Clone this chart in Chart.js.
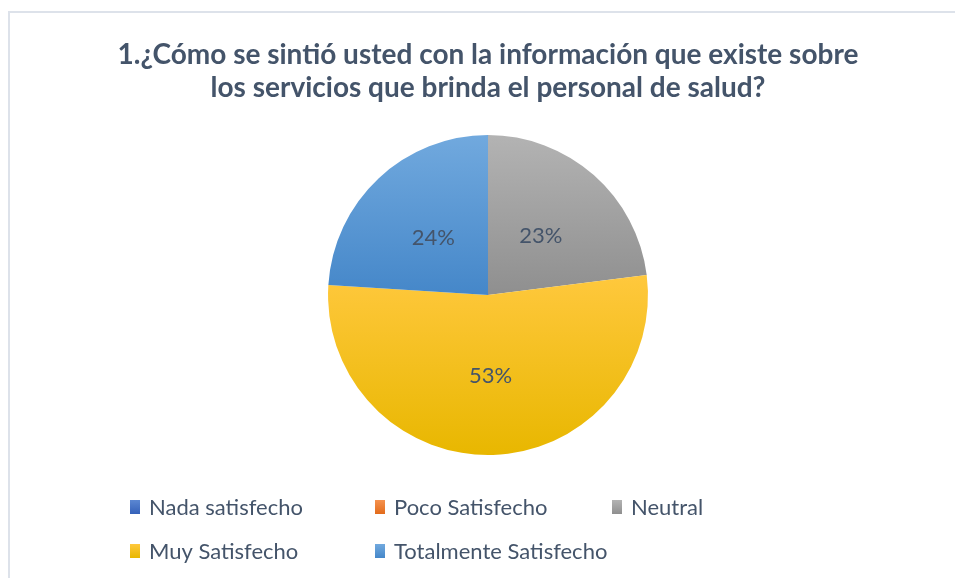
<!DOCTYPE html>
<html>
<head>
<meta charset="utf-8">
<script src="https://cdn.jsdelivr.net/npm/chart.js@4/dist/chart.umd.min.js"></script>
<style>
  html, body { margin: 0; padding: 0; background: #ffffff; }
  #wrap { width: 955px; height: 578px; position: relative; }
</style>
</head>
<body>
<div id="wrap"><canvas id="c" width="955" height="578"></canvas></div>
<script>
const titleLines = ['1.¿Cómo se sintió usted con la información que existe sobre', 'los servicios que brinda el personal de salud?'];
const categories = ['Nada satisfecho', 'Poco Satisfecho', 'Neutral', 'Muy Satisfecho', 'Totalmente Satisfecho'];
const values = [0, 0, 23, 53, 24];
const colorTop = ['#5b87d2', '#f5924f', '#b3b3b3', '#ffc83d', '#71a9de'];
const colorBottom = ['#3561b9', '#e26b1b', '#8f8f8f', '#e8b700', '#4587c9'];
const textColor = '#44546A';
const FONT = 'Lato, "Open Sans", sans-serif';

function sliceGradient(ctx) {
  const chart = ctx.chart;
  const a = chart.chartArea;
  const i = ctx.dataIndex;
  if (!a) return colorTop[i];
  const cx = (a.left + a.right) / 2, cy = (a.top + a.bottom) / 2;
  const r = Math.min(a.right - a.left, a.bottom - a.top) / 2;
  const total = values.reduce((s, v) => s + v, 0);
  let before = 0;
  for (let k = 0; k < i; k++) before += values[k];
  const a0 = before / total * Math.PI * 2;
  const a1 = (before + values[i]) / total * Math.PI * 2;
  const ys = [cy, cy - r * Math.cos(a0), cy - r * Math.cos(a1)];
  if (a0 <= 0 + 1e-9) ys.push(cy - r);
  if (a0 <= Math.PI && a1 >= Math.PI) ys.push(cy + r);
  let y0 = Math.min(...ys), y1 = Math.max(...ys);
  if (y1 - y0 < 1) y1 = y0 + 1;
  const g = chart.ctx.createLinearGradient(0, y0, 0, y1);
  g.addColorStop(0, colorTop[i]);
  g.addColorStop(1, colorBottom[i]);
  return g;
}

const framePlugin = {
  id: 'frame',
  beforeDraw(chart) {
    const c = chart.ctx;
    c.save();
    c.fillStyle = '#ffffff';
    c.fillRect(0, 0, chart.width, chart.height);
    c.strokeStyle = '#dde2ea';
    c.lineWidth = 2;
    c.beginPath();
    c.moveTo(chart.width + 5, 12);
    c.lineTo(9, 12);
    c.lineTo(9, chart.height + 5);
    c.stroke();
    c.restore();
  }
};

const labelPlugin = {
  id: 'pctLabels',
  afterDatasetsDraw(chart) {
    const c = chart.ctx;
    const meta = chart.getDatasetMeta(0);
    c.save();
    c.fillStyle = textColor;
    c.font = '22px ' + FONT;
    c.textAlign = 'center';
    c.textBaseline = 'middle';
    meta.data.forEach((el, i) => {
      if (!values[i]) return;
      const p = el.tooltipPosition();
      c.fillText(values[i] + '%', p.x, p.y + 1);
    });
    c.restore();
  }
};

const legendPlugin = {
  id: 'gridLegend',
  afterDraw(chart) {
    const c = chart.ctx;
    const colX = [130, 375, 612];
    const rowY = [507, 551];
    c.save();
    c.font = '22px ' + FONT;
    c.textBaseline = 'middle';
    c.textAlign = 'left';
    categories.forEach((name, i) => {
      const x = colX[i % 3], y = rowY[Math.floor(i / 3)];
      const g = c.createLinearGradient(0, y - 7, 0, y + 7);
      g.addColorStop(0, colorTop[i]);
      g.addColorStop(1, colorBottom[i]);
      c.fillStyle = g;
      c.fillRect(x, y - 7, 10, 14);
      c.fillStyle = textColor;
      c.fillText(name, x + 19, y + 1);
    });
    c.restore();
  }
};

new Chart(document.getElementById('c'), {
  type: 'pie',
  data: {
    labels: categories,
    datasets: [{
      data: values,
      backgroundColor: sliceGradient,
      borderWidth: 0
    }]
  },
  options: {
    responsive: false,
    animation: false,
    layout: { padding: { left: 21, right: 0, top: 0, bottom: 123 } },
    plugins: {
      legend: { display: false },
      tooltip: { enabled: false },
      title: {
        display: true,
        text: titleLines,
        color: textColor,
        font: { family: FONT, size: 28, weight: 'bold', lineHeight: 1.18 },
        padding: { top: 38, bottom: 31 }
      }
    }
  },
  plugins: [framePlugin, labelPlugin, legendPlugin]
});
</script>
</body>
</html>
